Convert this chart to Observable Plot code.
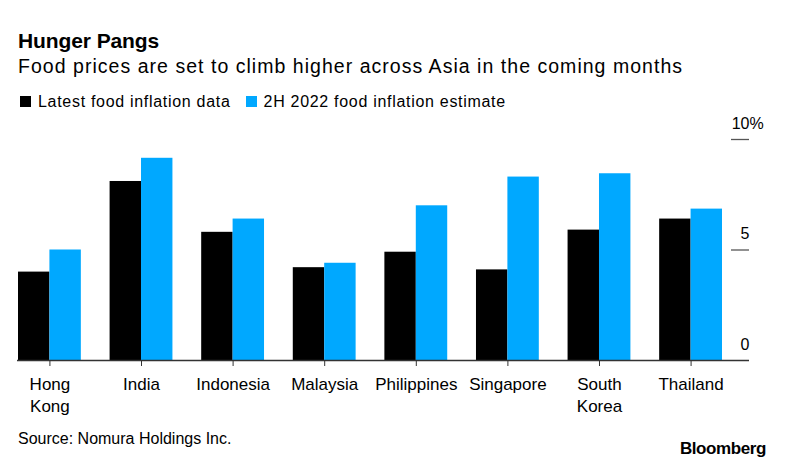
<!DOCTYPE html>
<html>
<head>
<meta charset="utf-8">
<script src="https://cdn.jsdelivr.net/npm/d3@7"></script>
<script src="https://cdn.jsdelivr.net/npm/@observablehq/plot@0.6"></script>
<style>
  html, body { margin: 0; padding: 0; background: #fff; }
  body { width: 788px; height: 466px; position: relative; overflow: hidden; font-family: "Liberation Sans", Arial, sans-serif; color: #000; }
  .abs { position: absolute; white-space: nowrap; }
  #title { left: 18px; top: 30px; font-size: 21px; line-height: 21px; font-weight: bold; letter-spacing: -0.1px; }
  #subtitle { left: 18px; top: 57px; font-size: 19.5px; line-height: 19.5px; letter-spacing: 1.03px; }
  #legend { left: 20px; top: 93.5px; font-size: 16px; line-height: 16px; letter-spacing: 0.7px; display: flex; align-items: center; }
  .sw { display: inline-block; width: 11px; height: 11px; margin-right: 7px; }
  .item { display: inline-flex; align-items: center; margin-right: 15px; }
  #chart { position: absolute; left: 0; top: 110px; }
  #source { left: 18px; top: 431px; font-size: 16px; line-height: 16px; }
  #brand { right: 22px; top: 440px; font-size: 17px; line-height: 17px; font-weight: bold; letter-spacing: -0.4px; }
</style>
</head>
<body>
<div id="title" class="abs">Hunger Pangs</div>
<div id="subtitle" class="abs">Food prices are set to climb higher across Asia in the coming months</div>
<div id="legend" class="abs"></div>
<div id="chart"></div>
<div id="source" class="abs">Source: Nomura Holdings Inc.</div>
<div id="brand" class="abs">Bloomberg</div>
<script>
const countries = ["Hong Kong", "India", "Indonesia", "Malaysia", "Philippines", "Singapore", "South Korea", "Thailand"];
const latest = [4.0, 8.1, 5.8, 4.2, 4.9, 4.1, 5.9, 6.4];
const estimate = [5.0, 9.15, 6.4, 4.4, 7.0, 8.3, 8.45, 6.85];
const seriesNames = ["Latest food inflation data", "2H 2022 food inflation estimate"];
const seriesColors = ["#000000", "#00a8ff"];
const yTicks = [0, 5, 10];

// legend
const legend = document.getElementById("legend");
seriesNames.forEach((name, i) => {
  const item = document.createElement("span");
  item.className = "item";
  item.innerHTML = `<span class="sw" style="background:${seriesColors[i]}"></span>${name}`;
  legend.appendChild(item);
});

const W = 788, H = 310, mL = 18, mR = 66, mT = 29, mB = 60;
const padInner = 0.314;
const step = (W - mL - mR) / (countries.length - padInner);
const half = step * (1 - padInner) / 2;

const rows = countries.map((c, i) => ({country: c, latest: latest[i], estimate: estimate[i]}));

const chart = Plot.plot({
  width: W,
  height: H,
  marginLeft: mL,
  marginRight: mR,
  marginTop: mT,
  marginBottom: mB,
  style: {fontFamily: "Liberation Sans, Arial, sans-serif", background: "transparent", overflow: "visible"},
  x: {domain: countries, paddingInner: padInner, paddingOuter: 0, round: false, label: null},
  y: {domain: [0, 10], label: null, axis: null},
  marks: [
    Plot.barY(rows, {x: "country", y: "latest", fill: seriesColors[0], insetRight: half}),
    Plot.barY(rows, {x: "country", y: "estimate", fill: seriesColors[1], insetLeft: half}),
    Plot.ruleY([0], {stroke: "#333", strokeWidth: 1.3, insetLeft: -1, insetRight: -27}),
    Plot.axisX({
      tickSize: 6,
      tickPadding: 8,
      stroke: "#333",
      fontSize: 17,
      lineHeight: 1.3,
      color: "#000",
      tickFormat: d => d.replace(" ", "\n"),
      label: null
    }),
    Plot.ruleY(yTicks.filter(d => d > 0), {stroke: "#555", strokeWidth: 1.3, insetLeft: W - mL - mR + 9, insetRight: -27}),
    Plot.text(yTicks, {y: d => d, text: d => String(d), frameAnchor: "right", textAnchor: "end", dx: 27, dy: -16, fontSize: 16, fill: "#000"}),
    Plot.text(yTicks.filter(d => d === 10), {y: d => d, text: () => "%", frameAnchor: "right", textAnchor: "start", dx: 27, dy: -16, fontSize: 16, fill: "#000"})
  ]
});
document.getElementById("chart").appendChild(chart);
</script>
</body>
</html>
